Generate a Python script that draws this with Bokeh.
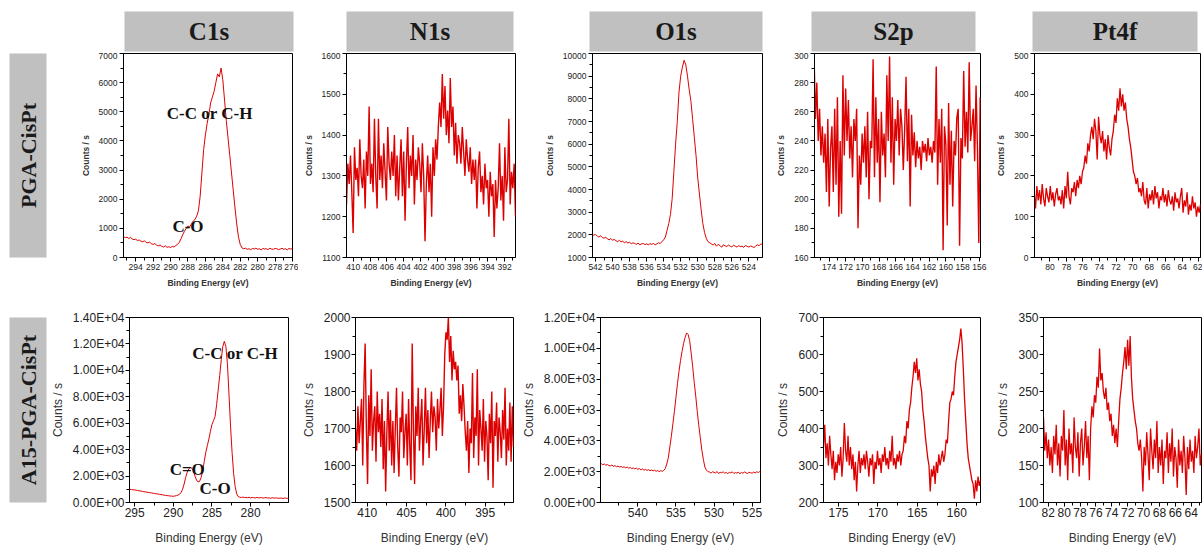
import numpy as np
from math import pi
from bokeh.plotting import figure
from bokeh.layouts import row, column
from bokeh.models import Range1d, SingleIntervalTicker, Label, Spacer
from bokeh.embed import file_html
from bokeh.resources import INLINE

# ---------------- data ----------------
HEADERS = ["C1s", "N1s", "O1s", "S2p", "Pt4f"]
SAMPLES = ["PGA-CisPt", "A15-PGA-CisPt"]
X_LABEL = "Binding Energy (eV)"
Y_LABEL = "Counts / s"

# energy windows (first, last point) of each recorded spectrum
TOP_C1S_E = [295.4, 276.0]
TOP_N1S_E = [410.8, 390.7]
TOP_O1S_E = [542.4, 522.4]
TOP_S2P_E = [175.8, 155.9]
TOP_PT4F_E = [81.9, 61.8]
BOT_C1S_E = [295.6, 274.8]
BOT_N1S_E = [411.5, 391.4]
BOT_O1S_E = [545.2, 523.8]
BOT_S2P_E = [176.9, 157.0]
BOT_PT4F_E = [82.6, 62.7]

TOP_C1S = [720, 680, 700, 650, 690, 640, 610, 630, 580, 600,
           560, 540, 570, 520, 500, 530, 470, 450, 480, 420,
           400, 430, 380, 360, 400, 350, 370, 340, 380, 360,
           410, 450, 520, 640, 780, 900, 1000, 1080, 1050, 1150,
           1250, 1300, 1420, 1600, 2100, 2900, 3700, 4200, 4600, 4900,
           5300, 5500, 5700, 6000, 6300, 6200, 6500, 6100, 5400, 4700,
           4100, 3500, 2900, 2300, 1700, 1150, 700, 450, 330, 300,
           320, 280,
           300, 270, 310, 290, 320, 280, 300, 260, 310, 290,
           300, 270, 320, 290, 280, 310, 300, 270, 290, 320,
           280, 300, 260, 310, 290, 300]

TOP_N1S = [1230, 1330, 1280, 1350, 1260, 1160, 1370, 1290, 1320, 1250, 1390, 1300, 1270, 1340, 1220, 1360, 1300, 1470, 1280, 1330,
           1260, 1440, 1300, 1220, 1440, 1290, 1350, 1270, 1380, 1310, 1240, 1420, 1330, 1290, 1360, 1300, 1400, 1250, 1350, 1240,
           1320, 1390, 1250, 1360, 1190, 1330, 1420, 1270, 1350, 1300, 1400, 1230, 1340, 1290, 1370, 1330, 1260, 1380, 1300, 1140,
           1280, 1350, 1260, 1330, 1200, 1370, 1300, 1390, 1340, 1420,
           1480, 1420, 1550, 1440, 1520, 1400, 1460, 1380, 1540, 1420, 1470, 1350, 1430, 1330,
           1400, 1380, 1330, 1420, 1360, 1300, 1390, 1340, 1310, 1370, 1280, 1340,
           1290, 1340, 1220, 1320, 1360, 1260, 1300, 1230, 1330, 1270, 1290, 1200, 1310, 1250, 1280, 1150, 1290, 1220,
           1270, 1380, 1240, 1300, 1190, 1370, 1260, 1290, 1440, 1230, 1310, 1270, 1330, 1200]

TOP_O1S = [2050, 1980, 2020, 1950, 1900, 1960, 1880, 1850, 1900, 1820,
           1780, 1840, 1760, 1800, 1740, 1700, 1760, 1690, 1720, 1650,
           1700, 1640, 1680, 1600, 1650, 1620, 1580, 1640, 1560, 1600,
           1620, 1570, 1600, 1560, 1610, 1580, 1620, 1560, 1600, 1650,
           1620, 1700, 1780,
           1900, 2200, 2500, 2900, 3600, 4800, 6000, 7000, 8300, 9000,
           9400, 9700, 9500, 9000, 8400, 7900, 7100, 6300, 5500, 4500,
           3800, 3100, 2500, 2100, 1850, 1700, 1650,
           1600, 1550, 1620, 1500, 1580, 1530, 1450, 1560, 1520, 1480,
           1550, 1500, 1470, 1540, 1500, 1460, 1520, 1480, 1500, 1450,
           1530, 1490, 1460, 1510, 1480, 1440, 1500, 1560, 1520, 1600, 1580]

TOP_S2P = [298, 255, 280, 240, 262, 230, 250, 225, 245, 205, 255, 195,
           235, 250, 205, 262, 210, 270, 188, 240, 190, 285, 230, 276, 240, 268, 228, 250, 215, 255, 240, 262,
           180, 230, 210, 245, 225, 250, 215, 260, 200, 240, 235, 296, 215, 270, 225, 255, 198, 260, 230, 245,
           215, 285, 240, 298, 225, 270, 210, 255, 240, 268, 230, 262, 250, 220, 248, 284, 226, 262, 195, 258,
           230, 246, 222, 240, 228, 236, 220, 240, 232, 238, 226, 242, 230, 236, 225, 240, 232, 291, 210, 255,
           225, 262, 165, 250, 238, 182, 266, 210, 247, 195, 240, 230, 256, 262, 168, 242, 228, 288, 236, 260,
           232, 294, 240, 250, 262, 226, 278, 236, 170, 270]

TOP_PT4F = [160, 120, 175, 140, 165, 130, 180, 145, 125, 170, 150, 135, 175, 140, 160, 125, 155, 170, 140, 150,
            130, 165, 120, 175, 145, 210, 150, 130, 170,
            160, 185, 150, 190, 170, 200, 180, 210,
            220, 250, 230, 280, 260, 300, 320, 290,
            340, 310, 240, 345, 300, 280, 310, 260,
            290, 240, 300, 270, 250, 290,
            310, 350, 330, 390, 360, 415, 370, 400,
            360, 380, 340, 320, 290, 270,
            240, 210, 200, 180, 195, 160,
            170, 150, 185, 140, 130, 170, 120, 155, 140, 165, 130, 175, 145, 160, 120, 150, 140, 170, 135, 155,
            125, 165, 140, 130, 150, 115, 160, 135, 145, 120, 150, 170, 110, 140, 125, 160, 105, 130, 115, 150,
            120, 135, 100, 125, 110, 130]

BOT_C1S = [1000, 980, 960, 950, 930, 900, 880, 870, 840, 820, 800, 780, 760, 740, 720, 700, 680, 660, 640, 620,
           600, 580, 560, 540, 520, 510, 490, 480,
           470, 490, 520, 560, 620, 750, 1000, 1400, 1900, 2300, 2550, 2650, 2600, 2400, 2000, 1700, 1550, 1600,
           1900, 2400, 3100, 3800, 4300, 4800, 5400, 5900, 6200, 6500, 7400, 8500, 9600,
           10800, 11800, 12200, 11800, 10500, 8200, 5800, 3800, 2200, 1200, 650, 450,
           400, 380, 410, 370, 390, 360, 400, 350, 380, 370, 340, 390, 360, 350, 380, 330, 360, 370, 340, 350,
           320, 360, 340, 330, 350, 310, 340, 330, 300, 350, 320, 310, 340, 300]

BOT_N1S = [1700, 1640, 1760, 1660, 1720, 1780, 1600, 1820, 1930, 1700, 1550, 1790, 1680, 1860, 1640, 1720, 1760, 1610, 1800, 1690, 1740, 1650,
           1780, 1590, 1720, 1530, 1690, 1800, 1640, 1750, 1600, 1720, 1580, 1700, 1810, 1650, 1570, 1730, 1690, 1800, 1620, 1690, 1740, 1600,
           1780, 1650, 1560, 1930, 1700, 1550, 1760, 1680, 1810, 1640, 1720, 1780, 1600, 1700, 1810, 1660, 1750, 1620, 1720, 1800, 1690, 1760,
           1730, 1640, 1780, 1700, 1750, 1810, 1680, 1760,
           1900, 1960, 1940, 2000, 1880, 1950, 1830, 1910, 1860, 1880, 1830, 1870,
           1740, 1790, 1720, 1820, 1760, 1690, 1640, 1720, 1580, 1700, 1660, 1850, 1620, 1730, 1680, 1860, 1600, 1750, 1700, 1640,
           1780, 1610, 1720, 1680, 1560, 1740,
           1660, 1800, 1540, 1720, 1680, 1770, 1610, 1730, 1690, 1620, 1750, 1670, 1810, 1600, 1700, 1640, 1770, 1610, 1760, 1650]

BOT_O1S = [2550, 2480, 2520, 2450, 2500, 2420, 2460, 2400, 2380, 2430, 2350, 2390, 2320, 2360, 2300, 2340, 2280, 2310, 2250, 2300,
           2220, 2270, 2200, 2240, 2180, 2230, 2150, 2200, 2120, 2180, 2100, 2150, 2080, 2130, 2060, 2110, 2050, 2100, 2020, 2080,
           2000, 2060, 2030, 2080,
           2200, 2500, 2900, 3600, 4300, 5100, 5900, 6800, 7700, 8500, 9200, 9800, 10300, 10700, 11000, 10900, 10500, 9700, 8800, 7800,
           6900, 5900, 5000, 4200, 3400, 2800, 2300, 2100, 2000,
           1980, 1900, 2000, 1950, 1920, 2010, 1880, 1960, 1930, 1990, 1900, 1950, 1870, 1960, 1920, 1990, 1880, 1940, 1910, 1970,
           1860, 1950, 1900, 1980, 1920, 1880, 1960, 1930, 1900, 1970, 1920, 1990, 1950, 2000, 1960]

BOT_S2P = [350, 410, 320, 360, 300, 380, 330, 290, 340, 260, 310, 280, 330, 300, 350, 270, 320, 415, 340, 310,
           380, 300, 350, 290, 330, 260, 310, 230, 300, 340, 280, 320, 300, 330, 290, 340, 310, 270, 320, 300,
           330, 250, 310, 290, 340, 300, 320, 280, 330, 310, 350, 300, 320, 290, 340, 310, 380, 300, 320, 290,
           330, 310, 340, 300, 330,
           340, 380, 360, 420, 400, 450, 470, 510,
           540, 580, 550, 590, 530, 560, 520, 500,
           450, 420, 380, 350, 320, 300, 230, 290,
           270, 300, 250, 310, 280, 330, 300, 320, 340, 310, 330,
           370, 360, 420, 470, 480, 500, 490,
           540, 580, 600, 620, 640, 670, 630,
           560, 480, 420, 360, 320, 300, 280, 260,
           250, 210, 260, 230, 270, 245, 260]

BOT_PT4F = [215, 170, 195, 160, 185, 150, 175, 140, 190, 165, 205, 150, 180, 135, 190, 170, 225, 150, 185, 130,
            200, 165, 180, 140, 215, 175, 160, 195, 135, 180, 200, 150, 175, 210, 160, 190, 130,
            200, 230, 215, 245, 235,
            270, 255, 308, 265, 275, 250,
            240, 255, 225, 235, 210, 220, 190, 205,
            180, 200, 175, 210,
            240, 255, 275, 290, 310,
            280, 320, 285, 325, 270, 240,
            225, 210, 200, 180, 170,
            185, 160, 115, 175, 150, 195, 165, 130, 200, 170, 145, 185, 160, 210, 140, 175, 150, 185, 125, 170,
            160, 195, 140, 180, 155, 200, 135, 175, 160, 120, 185, 150, 170, 140, 190, 160, 110, 175, 145, 185,
            155, 170, 140, 190, 160, 175, 200, 150, 165]

BOT_C1S_YTICKS = [0, 2000, 4000, 6000, 8000, 10000, 12000, 14000]
BOT_C1S_YLABELS = ["0.00E+00", "2.00E+03", "4.00E+03", "6.00E+03", "8.00E+03", "1.00E+04", "1.20E+04", "1.40E+04"]
BOT_O1S_YTICKS = [0, 2000, 4000, 6000, 8000, 10000, 12000]
BOT_O1S_YLABELS = ["0.00E+00", "2.00E+03", "4.00E+03", "6.00E+03", "8.00E+03", "1.00E+04", "1.20E+04"]

TOP_C1S_NOTES = ["C-C or C-H", "C-O"]
TOP_C1S_NOTE_X = [285.5, 288.0]
TOP_C1S_NOTE_Y = [4950, 1050]
BOT_C1S_NOTES = ["C-C or C-H", "C=O", "C-O"]
BOT_C1S_NOTE_X = [282.0, 288.2, 284.6]
BOT_C1S_NOTE_Y = [11300, 2470, 1050]

# ---------------- styling ----------------
RED = "#dd0000"
GRAY = "#c0c0c0"
SANS = "Liberation Sans"
SERIF = "Liberation Serif"

COL_W = [251, 220, 255, 220, 209]
LAB_W = 47


def make_panel(e, y, xr, yr, xint, yint, width, left, right, height, top, bottom, big,
               lw, yticks=None, ylabels=None):
    p = figure(width=width, height=height, x_range=Range1d(xr[0], xr[1]),
               y_range=Range1d(yr[0], yr[1]), output_backend="svg",
               toolbar_location=None, title=None,
               min_border_left=left, min_border_right=right,
               min_border_top=top, min_border_bottom=bottom,
               background_fill_color="white", border_fill_color="white")
    p.outline_line_color = "black"
    p.outline_line_width = 1
    p.xgrid.visible = False
    p.ygrid.visible = False
    p.xaxis.ticker = SingleIntervalTicker(interval=xint, num_minor_ticks=2)
    p.yaxis.ticker = SingleIntervalTicker(interval=yint, num_minor_ticks=2)
    if ylabels is not None:
        p.yaxis.major_label_overrides = dict(zip(yticks, ylabels))
    p.xaxis.axis_label = X_LABEL
    p.yaxis.axis_label = Y_LABEL
    tick_fs = "12px" if big else "8.5px"
    lab_fs = "12px" if big else "8.5px"
    for ax in (p.xaxis[0], p.yaxis[0]):
        ax.axis_line_color = "black"
        ax.major_tick_line_color = "black"
        ax.minor_tick_line_color = "black"
        ax.major_tick_out = 4
        ax.major_tick_in = 0
        ax.minor_tick_out = 3
        ax.minor_tick_in = 0
        ax.major_label_standoff = 1 if big else 2
        ax.major_label_text_font = SANS
        ax.major_label_text_font_size = tick_fs
        ax.major_label_text_color = "#222222"
        ax.axis_label_text_font = SANS
        ax.axis_label_text_font_size = lab_fs
        ax.axis_label_text_font_style = "normal" if big else "bold"
        ax.axis_label_text_color = "#333333"
        ax.axis_label_standoff = 5
    if big:
        p.xaxis[0].axis_label_standoff = 11
    x = np.linspace(e[0], e[1], len(y))
    p.line(x, y, line_color=RED, line_width=lw)
    return p


def box_fig(width, height, left, right, top, bottom, text, size, vertical=False):
    p = figure(width=width, height=height, x_range=Range1d(0, 1), y_range=Range1d(0, 1),
               output_backend="svg", toolbar_location=None, title=None,
               x_axis_type=None, y_axis_type=None,
               min_border_left=left, min_border_right=right,
               min_border_top=top, min_border_bottom=bottom,
               background_fill_color=GRAY, border_fill_color="white")
    p.outline_line_color = None
    p.xgrid.visible = False
    p.ygrid.visible = False
    p.add_layout(Label(x=0.5, y=0.5, text=text, text_align="center",
                       text_baseline="middle", text_font=SERIF,
                       text_font_style="bold", text_font_size=size,
                       text_color="#1a1a1a", angle=(pi / 2 if vertical else 0)))
    return p


def notes(p, texts, xs, ys):
    for t, xx, yy in zip(texts, xs, ys):
        p.add_layout(Label(x=xx, y=yy, text=t, text_align="center", text_baseline="middle",
                           text_font=SERIF, text_font_style="bold",
                           text_font_size="17px", text_color="#111111"))


# ---------------- headers ----------------
hdr_borders = [(77, 5), (48, 5), (71, 11), (38, 18), (39, 5)]
headers = [Spacer(width=LAB_W, height=52)]
for name, w, (l, r) in zip(HEADERS, COL_W, hdr_borders):
    headers.append(box_fig(w, 52, l, r, 11, 1, name, "25px"))

# ---------------- top row ----------------
TH, TT, TB = 242, 1, 37
top_specs = [
    (TOP_C1S_E, TOP_C1S, (295.4, 276.0), (0, 7000), 2, 1000, 76, 6, 1.0),
    (TOP_N1S_E, TOP_N1S, (410.8, 390.7), (1100, 1600), 2, 100, 48, 3, 1.4),
    (TOP_O1S_E, TOP_O1S, (542.35, 522.4), (1000, 10000), 2, 1000, 74, 11, 1.0),
    (TOP_S2P_E, TOP_S2P, (175.75, 155.86), (160, 300), 2, 20, 37, 13, 1.4),
    (TOP_PT4F_E, TOP_PT4F, (81.86, 61.8), (0, 500), 2, 100, 38, 2, 1.3),
]
top_row = [box_fig(LAB_W, TH, 9, 1, 0, 35, SAMPLES[0], "22px", vertical=True)]
for (e, y, xr, yr, xi, yi, l, r, lw), w in zip(top_specs, COL_W):
    top_row.append(make_panel(e, y, xr, yr, xi, yi, w, l, r, TH, TT, TB, False, lw))
notes(top_row[1], TOP_C1S_NOTES, TOP_C1S_NOTE_X, TOP_C1S_NOTE_Y)

# ---------------- bottom row ----------------
BH, BT, BB = 254, 23, 46
bot_specs = [
    (BOT_C1S_E, BOT_C1S, (295.67, 275.1), (0, 14000), 5, 2000, 76, 10, 1.0, BOT_C1S_YTICKS, BOT_C1S_YLABELS),
    (BOT_N1S_E, BOT_N1S, (411.5, 391.4), (1500, 2000), 5, 100, 49, 5, 1.4, None, None),
    (BOT_O1S_E, BOT_O1S, (544.9, 523.9), (0, 12000), 5, 2000, 74, 13, 1.0, BOT_O1S_YTICKS, BOT_O1S_YLABELS),
    (BOT_S2P_E, BOT_S2P, (176.9, 157.0), (200, 700), 5, 100, 41, 13, 1.3, None, None),
    (BOT_PT4F_E, BOT_PT4F, (82.6, 62.7), (100, 350), 2, 50, 42, 1, 1.3, None, None),
]
bot_row = [box_fig(LAB_W, BH, 9, 1, 0, 18, SAMPLES[1], "22px", vertical=True)]
for (e, y, xr, yr, xi, yi, l, r, lw, yt, yl), w in zip(bot_specs, COL_W):
    bot_row.append(make_panel(e, y, xr, yr, xi, yi, w, l, r, BH, BT, BB, True, lw, yt, yl))
notes(bot_row[1], BOT_C1S_NOTES, BOT_C1S_NOTE_X, BOT_C1S_NOTE_Y)

layout = column(row(*headers), row(*top_row), row(*bot_row))

open("out.html", "w").write(file_html(layout, INLINE))
